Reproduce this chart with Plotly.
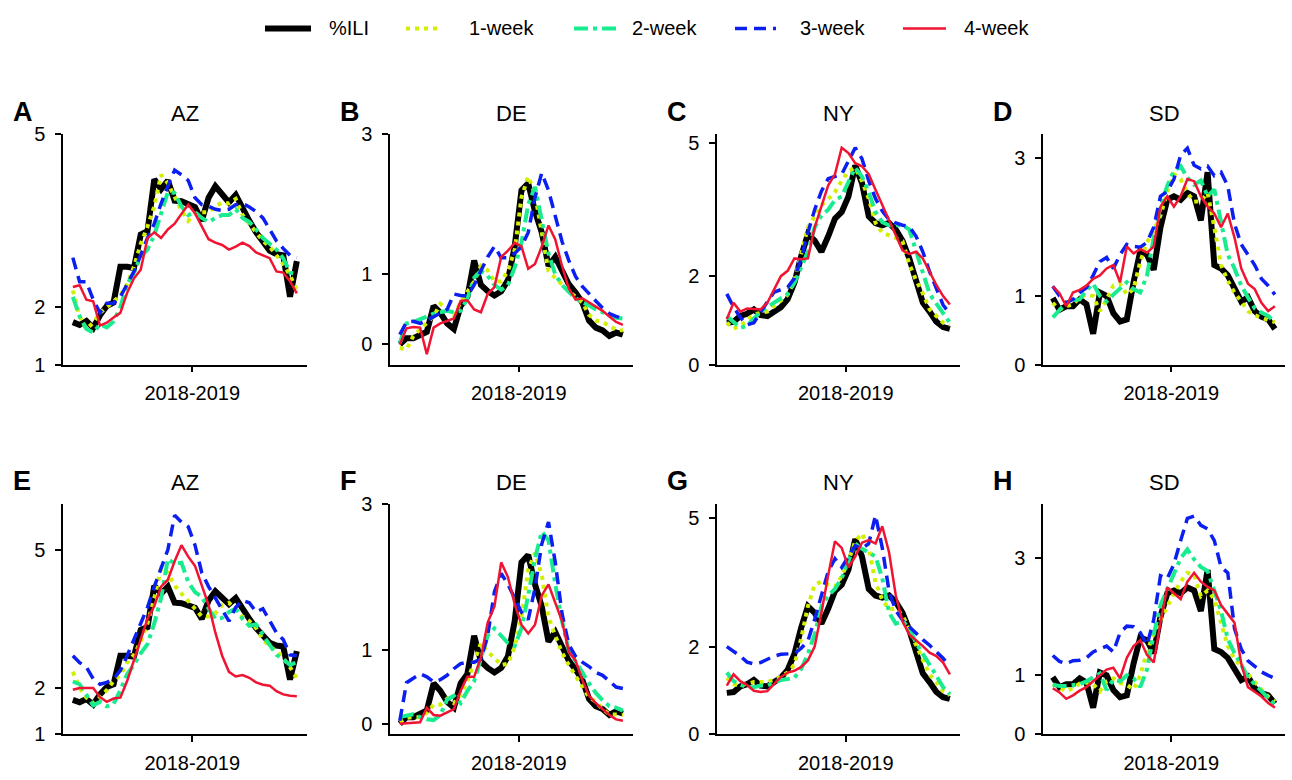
import plotly.graph_objects as go

# ---------------------------------------------------------------- data
weeks = list(range(34))
season_tick = [17.6]
season_text = ["2018-2019"]

states = ["AZ", "DE", "NY", "SD"]
panel_letters = ["A", "B", "C", "D", "E", "F", "G", "H"]
series_names = ["%ILI", "1-week", "2-week", "3-week", "4-week"]

yticks_az = [1, 2, 5]
yticks_de = [0, 1, 3]
yticks_ny = [0, 2, 5]
yticks_sd = [0, 1, 3]

# observed %ILI per state
ili_az = [1.74, 1.69, 1.76, 1.64, 1.86, 2.02, 2.08, 2.70, 2.70, 2.68, 3.26, 3.32, 4.22, 4.05, 4.20, 3.85, 3.84,
          3.78, 3.74, 3.50, 3.90, 4.10, 3.95, 3.82, 3.95, 3.70, 3.50, 3.30, 3.12, 2.98, 2.92, 2.90, 2.18, 2.80]
ili_de = [0.0, 0.09, 0.09, 0.14, 0.18, 0.55, 0.45, 0.30, 0.22, 0.55, 0.68, 1.20, 0.85, 0.76, 0.70, 0.76, 0.92,
          1.40, 2.20, 2.30, 1.90, 1.60, 1.12, 1.25, 1.05, 0.86, 0.74, 0.60, 0.34, 0.24, 0.20, 0.12, 0.17, 0.14]
ili_ny = [0.95, 0.97, 1.10, 1.15, 1.25, 1.12, 1.10, 1.22, 1.30, 1.48, 1.85, 2.45, 2.95, 2.80, 2.55, 2.90, 3.30,
          3.45, 3.80, 4.50, 4.10, 3.35, 3.20, 3.15, 3.20, 3.05, 2.80, 2.40, 1.90, 1.40, 1.20, 0.97, 0.85, 0.81]
ili_sd = [0.97, 0.80, 0.85, 0.85, 0.95, 0.88, 0.45, 1.05, 1.00, 0.75, 0.63, 0.66, 1.20, 1.65, 1.60, 1.38, 2.00,
          2.40, 2.45, 2.40, 2.50, 2.45, 2.10, 2.80, 1.45, 1.40, 1.30, 1.10, 0.92, 0.98, 0.78, 0.70, 0.66, 0.52]

# top row: 1- to 4-week ahead nowcasts
top_az_w1 = [2.29, 1.84, 1.62, 1.73, 1.90, 2.00, 2.10, 2.20, 2.40, 2.70, 3.10, 3.40, 3.75, 4.30, 4.15, 3.90, 3.68,
             3.50, 3.62, 3.65, 3.65, 3.75, 3.82, 3.80, 3.88, 3.60, 3.45, 3.30, 3.15, 3.05, 2.90, 2.75, 2.55, 2.30]
top_az_w2 = [2.18, 1.84, 1.62, 1.56, 1.70, 1.65, 1.75, 2.00, 2.40, 2.60, 2.88, 3.00, 3.25, 3.60, 4.00, 3.98, 3.75,
             3.60, 3.65, 3.55, 3.48, 3.55, 3.60, 3.60, 3.70, 3.55, 3.48, 3.35, 3.20, 3.10, 3.00, 2.85, 2.60, 2.58]
top_az_w3 = [2.86, 2.44, 2.44, 2.13, 1.90, 2.07, 2.07, 2.18, 2.40, 2.62, 2.90, 3.20, 3.45, 3.80, 4.10, 4.38, 4.30,
             4.20, 3.90, 3.78, 3.75, 3.70, 3.68, 3.70, 3.78, 3.80, 3.74, 3.66, 3.55, 3.35, 3.15, 3.02, 2.90, 2.86]
top_az_w4 = [2.35, 2.38, 2.13, 2.10, 1.68, 1.73, 1.82, 1.90, 2.25, 2.50, 2.65, 3.20, 3.30, 3.20, 3.35, 3.45, 3.62,
             3.78, 3.63, 3.40, 3.18, 3.12, 3.08, 3.00, 3.05, 3.12, 3.06, 2.95, 2.90, 2.85, 2.62, 2.60, 2.45, 2.24]

top_de_w1 = [-0.05, -0.07, 0.12, 0.22, 0.30, 0.40, 0.58, 0.50, 0.42, 0.60, 0.75, 0.90, 1.12, 1.06, 0.90, 0.90, 1.05,
             1.35, 2.10, 2.40, 2.15, 1.60, 1.05, 0.95, 0.85, 0.76, 0.68, 0.60, 0.42, 0.34, 0.32, 0.26, 0.21, 0.20]
top_de_w2 = [0.02, 0.30, 0.32, 0.36, 0.40, 0.44, 0.46, 0.48, 0.46, 0.48, 0.66, 0.95, 1.05, 0.98, 0.85, 0.78, 0.85,
             1.10, 1.45, 2.00, 2.25, 1.80, 1.30, 1.00, 0.85, 0.75, 0.66, 0.60, 0.56, 0.50, 0.46, 0.42, 0.38, 0.37]
top_de_w3 = [0.14, 0.32, 0.33, 0.30, 0.34, 0.40, 0.45, 0.50, 0.72, 0.70, 0.69, 0.85, 1.05, 1.25, 1.40, 1.24, 1.24,
             1.30, 1.40, 1.60, 2.10, 2.45, 2.20, 1.85, 1.47, 1.20, 0.97, 0.83, 0.72, 0.62, 0.52, 0.44, 0.40, 0.37]
top_de_w4 = [0.0, 0.23, 0.25, 0.24, -0.14, 0.24, 0.30, 0.34, 0.37, 0.62, 0.63, 0.50, 0.46, 0.72, 0.82, 1.25, 1.34,
             1.45, 1.40, 1.08, 1.15, 1.40, 1.70, 1.50, 1.12, 0.80, 0.64, 0.66, 0.60, 0.55, 0.48, 0.40, 0.32, 0.28]

top_ny_w1 = [0.95, 0.82, 0.87, 1.02, 1.14, 1.17, 1.20, 1.32, 1.45, 1.58, 1.90, 2.50, 3.10, 3.35, 3.60, 3.74, 3.90,
             4.15, 4.37, 4.45, 4.15, 3.75, 3.20, 2.98, 2.93, 2.86, 2.79, 2.27, 1.91, 1.61, 1.25, 1.10, 0.95, 0.90]
top_ny_w2 = [1.10, 0.97, 0.83, 0.88, 1.05, 1.20, 1.30, 1.40, 1.50, 1.60, 1.85, 2.20, 2.55, 3.10, 3.37, 3.50, 3.72,
             3.80, 4.15, 4.45, 4.25, 3.90, 3.45, 3.22, 3.15, 3.15, 3.15, 3.05, 2.55, 2.05, 1.60, 1.38, 1.17, 0.95]
top_ny_w3 = [1.60, 1.30, 1.07, 0.90, 0.95, 1.20, 1.42, 1.64, 1.69, 1.75, 1.95, 2.40, 2.98, 3.50, 3.92, 4.20, 4.25,
             4.30, 4.60, 4.90, 4.65, 4.15, 3.75, 3.47, 3.28, 3.20, 3.15, 3.12, 2.90, 2.55, 2.10, 1.70, 1.35, 1.15]
top_ny_w4 = [1.03, 1.40, 1.20, 1.27, 1.26, 1.25, 1.40, 1.70, 2.00, 2.12, 2.40, 2.38, 2.40, 3.10, 3.60, 4.05, 4.30,
             4.90, 4.78, 4.55, 4.48, 4.30, 3.95, 3.60, 3.25, 2.90, 2.58, 2.50, 2.55, 2.40, 2.10, 1.80, 1.55, 1.36]

top_sd_w1 = [0.90, 0.80, 0.85, 0.88, 0.98, 1.02, 1.00, 0.78, 0.95, 1.15, 1.18, 1.02, 1.10, 1.50, 1.78, 1.95, 2.17,
             2.51, 2.77, 2.70, 2.50, 2.37, 2.38, 2.50, 2.00, 1.45, 1.22, 1.05, 0.92, 0.78, 0.72, 0.68, 0.65, 0.62]
top_sd_w2 = [0.69, 0.80, 0.90, 0.94, 0.95, 1.08, 1.18, 1.00, 0.92, 1.02, 1.12, 1.20, 1.10, 1.05, 1.30, 1.85, 2.30,
             2.60, 2.82, 2.89, 2.72, 2.62, 2.68, 2.45, 2.55, 2.10, 1.60, 1.40, 1.15, 0.98, 0.82, 0.76, 0.71, 0.62]
top_sd_w3 = [1.14, 1.00, 0.90, 0.95, 1.05, 1.12, 1.30, 1.50, 1.56, 1.40, 1.60, 1.75, 1.72, 1.71, 1.78, 2.00, 2.45,
             2.52, 2.70, 3.05, 3.15, 2.90, 2.85, 2.89, 2.75, 2.80, 2.60, 2.05, 1.75, 1.60, 1.45, 1.25, 1.15, 1.02]
top_sd_w4 = [1.14, 1.04, 0.85, 1.05, 1.09, 1.15, 1.25, 1.30, 1.40, 1.45, 1.20, 1.72, 1.62, 1.68, 1.63, 1.72, 2.30,
             2.45, 2.30, 2.45, 2.70, 2.67, 2.45, 2.30, 2.20, 2.00, 2.20, 1.85, 1.40, 1.18, 1.10, 0.90, 0.78, 0.85]

# bottom row: 1- to 4-week ahead nowcasts
bot_az_w1 = [2.35, 2.00, 1.79, 1.67, 1.80, 1.95, 2.15, 2.28, 2.55, 2.72, 3.00, 3.40, 3.95, 4.60, 4.50, 4.22, 4.05,
             3.90, 3.72, 3.55, 3.55, 3.62, 3.80, 3.85, 3.70, 3.55, 3.45, 3.30, 3.05, 2.90, 2.80, 2.65, 2.45, 2.21]
bot_az_w2 = [2.14, 2.08, 1.85, 1.62, 1.70, 1.60, 1.65, 1.95, 2.30, 2.50, 2.75, 2.95, 3.40, 3.95, 4.80, 4.70, 4.72,
             4.30, 4.08, 3.98, 3.72, 3.50, 3.52, 3.65, 3.72, 3.50, 3.35, 3.38, 3.15, 2.92, 2.72, 2.62, 2.50, 2.56]
bot_az_w3 = [2.70, 2.55, 2.45, 2.20, 2.08, 2.12, 2.20, 2.38, 2.70, 3.05, 3.40, 3.75, 4.20, 4.60, 5.00, 5.75, 5.60,
             5.50, 5.10, 4.50, 4.20, 3.95, 3.70, 3.45, 3.75, 3.90, 3.85, 3.65, 3.72, 3.45, 3.20, 3.05, 2.72, 2.70]
bot_az_w4 = [1.96, 2.00, 2.00, 2.00, 1.80, 1.70, 1.77, 1.79, 2.15, 2.60, 3.00, 3.50, 3.78, 4.20, 4.35, 4.75, 5.10,
             4.85, 4.65, 4.20, 3.80, 3.20, 2.70, 2.35, 2.25, 2.28, 2.22, 2.12, 2.07, 2.05, 1.93, 1.86, 1.83, 1.82]

bot_de_w1 = [0.02, 0.08, 0.09, 0.09, 0.15, 0.26, 0.26, 0.34, 0.28, 0.40, 0.58, 0.85, 1.10, 0.98, 0.90, 0.80, 0.82,
             1.05, 1.45, 2.10, 2.33, 2.03, 1.45, 1.20, 0.97, 0.80, 0.66, 0.50, 0.36, 0.30, 0.20, 0.13, 0.13, 0.12]
bot_de_w2 = [0.09, 0.11, 0.13, 0.09, 0.06, 0.05, 0.12, 0.33, 0.38, 0.28, 0.45, 0.58, 0.90, 1.20, 1.30, 1.20, 1.10,
             1.06, 1.30, 1.75, 2.25, 2.62, 2.50, 1.90, 1.40, 1.00, 0.84, 0.70, 0.55, 0.42, 0.32, 0.24, 0.22, 0.18]
bot_de_w3 = [0.04, 0.56, 0.62, 0.68, 0.64, 0.57, 0.60, 0.66, 0.75, 0.82, 0.84, 0.84, 0.88, 1.20, 1.80, 2.05, 1.90,
             1.70, 1.52, 1.42, 1.85, 2.45, 2.75, 2.20, 1.50, 1.08, 0.92, 0.84, 0.78, 0.70, 0.66, 0.58, 0.50, 0.48]
bot_de_w4 = [0.0, 0.01, 0.02, 0.02, 0.22, 0.12, 0.11, 0.15, 0.20, 0.45, 0.64, 0.64, 0.90, 1.38, 1.60, 2.20, 2.00,
             1.63, 1.35, 1.23, 1.35, 1.75, 1.90, 1.65, 1.40, 0.98, 0.86, 0.60, 0.38, 0.28, 0.20, 0.12, 0.06, 0.04]

bot_ny_w1 = [1.30, 1.15, 1.12, 1.15, 1.20, 1.20, 1.20, 1.25, 1.32, 1.42, 1.60, 2.20, 2.95, 3.45, 3.52, 3.45, 3.40,
             3.65, 4.00, 4.45, 4.63, 4.30, 3.50, 3.10, 2.88, 2.90, 2.75, 2.40, 2.05, 1.70, 1.37, 1.20, 0.99, 0.90]
bot_ny_w2 = [1.42, 1.22, 1.14, 1.08, 1.08, 1.12, 1.12, 1.18, 1.25, 1.27, 1.30, 1.50, 1.85, 2.30, 2.95, 3.20, 3.35,
             3.60, 4.00, 4.40, 4.28, 4.20, 4.10, 3.60, 2.80, 2.55, 2.60, 2.45, 2.10, 1.85, 1.62, 1.35, 1.08, 0.92]
bot_ny_w3 = [2.02, 1.92, 1.80, 1.66, 1.62, 1.65, 1.73, 1.80, 1.84, 1.84, 1.86, 1.98, 2.15, 2.65, 3.20, 3.75, 4.05,
             3.85, 4.10, 4.35, 4.28, 4.40, 5.05, 4.30, 3.30, 2.85, 2.63, 2.48, 2.32, 2.18, 2.05, 1.90, 1.75, 1.57]
bot_ny_w4 = [1.12, 1.38, 1.22, 1.13, 1.00, 0.97, 0.99, 1.15, 1.32, 1.42, 1.46, 1.55, 1.70, 2.02, 2.80, 3.67, 4.45,
             4.30, 3.85, 4.10, 4.42, 4.48, 4.40, 4.80, 4.20, 3.20, 2.60, 2.30, 2.17, 2.03, 1.88, 1.80, 1.65, 1.38]

bot_sd_w1 = [0.85, 0.78, 0.73, 0.78, 0.86, 0.88, 0.85, 0.73, 0.90, 0.95, 0.87, 0.84, 0.76, 1.00, 1.40, 1.72, 1.95,
             2.20, 2.40, 2.60, 2.75, 2.72, 2.35, 2.45, 2.30, 1.90, 1.50, 1.28, 1.15, 1.00, 0.88, 0.76, 0.64, 0.55]
bot_sd_w2 = [0.84, 0.82, 0.82, 0.84, 0.85, 0.90, 0.96, 1.03, 0.75, 0.93, 0.90, 1.00, 0.95, 0.80, 1.10, 1.70, 2.20,
             2.48, 2.75, 3.00, 3.15, 2.98, 2.85, 2.78, 2.45, 2.10, 1.62, 1.38, 1.18, 0.97, 0.85, 0.74, 0.62, 0.50]
bot_sd_w3 = [1.34, 1.24, 1.20, 1.25, 1.26, 1.30, 1.40, 1.45, 1.50, 1.40, 1.73, 1.84, 1.83, 1.73, 1.52, 1.95, 2.70,
             2.65, 2.90, 3.30, 3.68, 3.72, 3.56, 3.50, 3.30, 2.85, 2.75, 1.80, 1.45, 1.25, 1.15, 1.06, 1.00, 0.95]
bot_sd_w4 = [0.78, 0.71, 0.60, 0.66, 0.74, 0.80, 0.90, 1.00, 1.10, 1.13, 0.95, 1.30, 1.50, 1.60, 1.35, 1.22, 1.90,
             2.50, 2.40, 2.30, 2.60, 2.75, 2.60, 2.51, 2.45, 2.20, 2.05, 1.90, 1.20, 0.80, 0.72, 0.64, 0.53, 0.45]

# ---------------------------------------------------------------- styling
FONT = "Liberation Sans, Arial, Helvetica, sans-serif"
W, H = 1292, 780

line_styles = [
    dict(color="#000000", width=6, dash="solid"),
    dict(color="#d2ef00", width=4, dash="4px,5px"),
    dict(color="#19eb8f", width=4, dash="14px,5px,4px,5px"),
    dict(color="#0b1ff0", width=3.5, dash="12px,7px"),
    dict(color="#f01432", width=2.5, dash="solid"),
]

panels = [
    # (ili, forecasts, ticks, y range)
    (ili_az, [top_az_w1, top_az_w2, top_az_w3, top_az_w4], yticks_az, [1, 5]),
    (ili_de, [top_de_w1, top_de_w2, top_de_w3, top_de_w4], yticks_de, [-0.29, 3]),
    (ili_ny, [top_ny_w1, top_ny_w2, top_ny_w3, top_ny_w4], yticks_ny, [0, 5.2]),
    (ili_sd, [top_sd_w1, top_sd_w2, top_sd_w3, top_sd_w4], yticks_sd, [0, 3.35]),
    (ili_az, [bot_az_w1, bot_az_w2, bot_az_w3, bot_az_w4], yticks_az, [1, 6.0]),
    (ili_de, [bot_de_w1, bot_de_w2, bot_de_w3, bot_de_w4], yticks_de, [-0.14, 3]),
    (ili_ny, [bot_ny_w1, bot_ny_w2, bot_ny_w3, bot_ny_w4], yticks_ny, [0, 5.32]),
    (ili_sd, [bot_sd_w1, bot_sd_w2, bot_sd_w3, bot_sd_w4], yticks_sd, [0, 3.93]),
]

# pixel extents of each plotting area
col_px = [(63, 307), (390, 633), (717, 960), (1043, 1285)]
row_px = [(127, 364), (507, 744)]

fig = go.Figure()
layout = dict(
    width=W, height=H,
    margin=dict(l=0, r=0, t=0, b=0),
    paper_bgcolor="white", plot_bgcolor="white",
    showlegend=False,
    font=dict(family=FONT, size=20, color="black"),
)
annotations = []
shapes = []

for k, (ili, fc, yt, yr) in enumerate(panels):
    r, c = divmod(k, 4)
    ax = "" if k == 0 else str(k + 1)
    xa, ya = "x" + ax, "y" + ax
    for s, ys in enumerate([ili] + fc):
        st = line_styles[s]
        fig.add_trace(go.Scatter(
            x=weeks, y=ys, mode="lines", name=series_names[s],
            line=dict(color=st["color"], width=st["width"], dash=st["dash"]),
            xaxis=xa, yaxis=ya, hoverinfo="skip",
        ))
    x0, x1 = col_px[c]
    y0, y1 = row_px[r]
    common = dict(showline=True, linecolor="black", linewidth=1.5, ticks="outside",
                  ticklen=6, tickwidth=1.5, tickcolor="black", showgrid=False,
                  zeroline=False, tickfont=dict(family=FONT, size=20, color="black"),
                  fixedrange=True)
    layout["xaxis" + ax] = dict(common, domain=[x0 / W, x1 / W], anchor=ya,
                                range=[-1.45, 34.5], tickmode="array",
                                tickvals=season_tick, ticktext=season_text,
                                ticklabelstandoff=4)
    layout["yaxis" + ax] = dict(common, domain=[1 - y1 / H, 1 - y0 / H], anchor=xa,
                                range=yr, tickmode="array", tickvals=yt,
                                ticktext=[str(v) for v in yt], ticklabelstandoff=6)
    # state title and panel letter
    annotations.append(dict(text=states[c], xref="paper", yref="paper",
                            x=(x0 + x1) / 2 / W, y=1 - (y0 - 22) / H,
                            xanchor="center", yanchor="middle", showarrow=False,
                            font=dict(family=FONT, size=22, color="black")))
    annotations.append(dict(text="<b>" + panel_letters[k] + "</b>", xref="paper", yref="paper",
                            x=(x0 - 52) / W, y=1 - (y0 - 23) / H,
                            xanchor="left", yanchor="middle", showarrow=False,
                            font=dict(family=FONT, size=27, color="black")))

# legend key across the top
key_px = [(265, 311, 327), (406, 441, 467), (574, 617, 630), (735, 776, 798), (903, 946, 962)]
key_y = 1 - 18 / H
for s, (a, b, t) in enumerate(key_px):
    st = line_styles[s]
    shapes.append(dict(type="line", xref="paper", yref="paper",
                       x0=a / W, x1=b / W, y0=key_y, y1=key_y,
                       line=dict(color=st["color"], width=st["width"], dash=st["dash"])))
    annotations.append(dict(text=series_names[s], xref="paper", yref="paper",
                            x=t / W, y=key_y, xanchor="left", yanchor="middle",
                            showarrow=False, font=dict(family=FONT, size=20, color="black")))

layout["annotations"] = annotations
layout["shapes"] = shapes
fig.update_layout(**layout)
fig.write_html("out.html")
